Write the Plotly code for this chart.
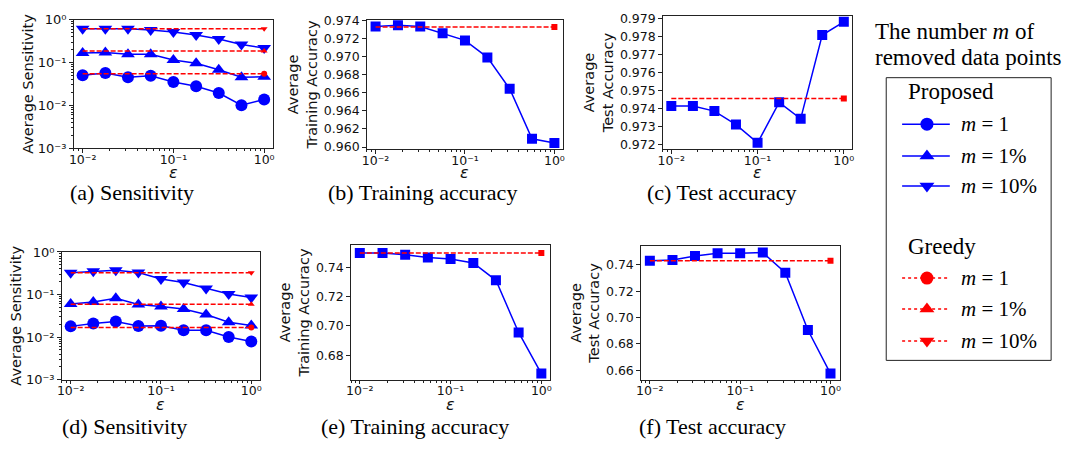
import plotly.graph_objects as go

W, H = 1074, 471

eps = [0.01, 0.0178, 0.0316, 0.0562, 0.1, 0.178, 0.316, 0.562, 1.0]
x_tickvals = [0.01, 0.1, 1]
x_ticktext = ["10⁻²", "10⁻¹", "10⁰"]
sens_tickvals = [0.001, 0.01, 0.1, 1]
sens_ticktext = ["10⁻³", "10⁻²", "10⁻¹", "10⁰"]

# (a) sensitivity, dataset 1
sens_a_m1 = [0.0506, 0.0571, 0.0456, 0.0489, 0.0351, 0.0280, 0.0195, 0.0101, 0.0138]
sens_a_m1p = [0.1675, 0.170, 0.156, 0.156, 0.114, 0.096, 0.068, 0.0456, 0.0464]
sens_a_m10p = [0.615, 0.615, 0.615, 0.574, 0.517, 0.435, 0.353, 0.263, 0.217]
greedy_a = [0.055, 0.186, 0.615]
# (b) training accuracy, dataset 1
train_b = [0.97333, 0.97347, 0.97333, 0.97258, 0.97180, 0.96992, 0.96645, 0.96091, 0.96045]
greedy_b = 0.97329
# (c) test accuracy, dataset 1
test_c = [0.97414, 0.97414, 0.97386, 0.97311, 0.97209, 0.97435, 0.97343, 0.97810, 0.97884]
greedy_c = 0.97457
# (d) sensitivity, dataset 2
sens_d_m1 = [0.0179, 0.0209, 0.0232, 0.0182, 0.0185, 0.0145, 0.0145, 0.0101, 0.0079]
sens_d_m1p = [0.0601, 0.0667, 0.0822, 0.0581, 0.0524, 0.0456, 0.0340, 0.0224, 0.0188]
sens_d_m10p = [0.324, 0.353, 0.372, 0.330, 0.233, 0.192, 0.138, 0.103, 0.0851]
greedy_d = [0.0169, 0.059, 0.324]
# (e) training accuracy, dataset 2
train_e = [0.7499, 0.7499, 0.7486, 0.7468, 0.7457, 0.7431, 0.7312, 0.6956, 0.6675]
greedy_e = 0.7499
# (f) test accuracy, dataset 2
test_f = [0.7432, 0.7437, 0.7468, 0.7488, 0.7488, 0.7493, 0.7341, 0.6906, 0.6576]
greedy_f = 0.7432

captions = ["(a) Sensitivity", "(b) Training accuracy", "(c) Test accuracy",
            "(d) Sensitivity", "(e) Training accuracy", "(f) Test accuracy"]
legend_labels = ["<i>m</i> = 1", "<i>m</i> = 1%", "<i>m</i> = 10%"]
symbols = ["circle", "triangle-up", "triangle-down"]

BLUE = "#0000ff"
RED = "#ff0000"
AX = "#222222"
SANS = "DejaVu Sans"
SERIF = "Liberation Serif"

# panel boxes in pixels: (left, right, top, bottom)
boxes = [(69, 270, 13, 146), (364, 562, 13, 147), (662, 853, 9, 147),
         (57, 257, 253, 385), (348, 549, 246, 385), (640, 840, 247, 385)]

fig = go.Figure()

def dom(b):
    l, r, t, btm = b
    return [l / W, r / W], [1 - btm / H, 1 - t / H]

TITLE_FONT = dict(family=SANS, size=14.5, color="#111")
layout = {}
for i, b in enumerate(boxes):
    n = i + 1
    xd, yd = dom(b)
    xk = "xaxis" if n == 1 else f"xaxis{n}"
    yk = "yaxis" if n == 1 else f"yaxis{n}"
    layout[xk] = dict(
        domain=xd, anchor="y" if n == 1 else f"y{n}", type="log", range=[-2.1, 0.1],
        tickvals=x_tickvals, ticktext=x_ticktext,
        ticks="outside", ticklen=3.5, tickcolor=AX, showline=True, linecolor=AX, linewidth=1,
        mirror=True, showgrid=False, zeroline=False, ticklabelstandoff=-4,
        tickfont=dict(family=SANS, size=12.5, color="#111"),
        minor=dict(ticks="outside", ticklen=2, tickcolor=AX, dtick="D1", showgrid=False),
    )
    ycommon = dict(
        domain=yd, anchor="x" if n == 1 else f"x{n}",
        ticks="outside", ticklen=3.5, tickcolor=AX, showline=True, linecolor=AX, linewidth=1,
        mirror=True, showgrid=False, zeroline=False,
        tickfont=dict(family=SANS, size=12.5, color="#111"),
    )
    if n in (1, 4):
        ycommon.update(type="log", range=[-3, 0], tickvals=sens_tickvals, ticktext=sens_ticktext,
                       tickfont=dict(family=SANS, size=13, color="#111"),
                       minor=dict(ticks="outside", ticklen=2, tickcolor=AX, dtick="D1", showgrid=False),
                       title=dict(text="Average Sensitivity", font=TITLE_FONT, standoff=0))
    elif n == 2:
        ycommon.update(range=[0.95975, 0.9741], dtick=0.002, tickformat=".3f",
                       title=dict(text="Average<br>Training Accuracy", font=TITLE_FONT, standoff=2))
    elif n == 3:
        ycommon.update(range=[0.97173, 0.97918], dtick=0.001, tickformat=".3f",
                       title=dict(text="Average<br>Test Accuracy", font=TITLE_FONT, standoff=2))
    elif n == 5:
        ycommon.update(range=[0.6633, 0.7552], dtick=0.02, tickformat=".2f",
                       title=dict(text="Average<br>Training Accuracy", font=TITLE_FONT, standoff=2))
    elif n == 6:
        ycommon.update(range=[0.6529, 0.7542], dtick=0.02, tickformat=".2f",
                       title=dict(text="Average<br>Test Accuracy", font=TITLE_FONT, standoff=2))
    layout[yk] = ycommon

def axes(n):
    return ("x" if n == 1 else f"x{n}", "y" if n == 1 else f"y{n}")

def add_sens(n, series, greedy):
    xa, ya = axes(n)
    for s, sym in zip(series, symbols):
        fig.add_trace(go.Scatter(x=eps, y=s, mode="lines+markers", xaxis=xa, yaxis=ya,
                                 line=dict(color=BLUE, width=1.5),
                                 marker=dict(symbol=sym, size=12, color=BLUE), showlegend=False))
    for g, sym in zip(greedy, symbols):
        fig.add_trace(go.Scatter(x=eps, y=[g] * len(eps), mode="lines", xaxis=xa, yaxis=ya,
                                 line=dict(color=RED, width=1.5, dash="5px,2px"), showlegend=False))
        fig.add_trace(go.Scatter(x=eps[-1:], y=[g], mode="markers", xaxis=xa, yaxis=ya,
                                 marker=dict(symbol=sym, size=6, color=RED), showlegend=False))

def add_acc(n, vals, greedy):
    xa, ya = axes(n)
    fig.add_trace(go.Scatter(x=eps, y=vals, mode="lines+markers", xaxis=xa, yaxis=ya,
                             line=dict(color=BLUE, width=1.5),
                             marker=dict(symbol="square", size=10, color=BLUE), showlegend=False))
    fig.add_trace(go.Scatter(x=eps, y=[greedy] * len(eps), mode="lines", xaxis=xa, yaxis=ya,
                             line=dict(color=RED, width=1.5, dash="5px,2px"), showlegend=False))
    fig.add_trace(go.Scatter(x=eps[-1:], y=[greedy], mode="markers", xaxis=xa, yaxis=ya,
                             marker=dict(symbol="square", size=6, color=RED), showlegend=False))

add_sens(1, [sens_a_m1, sens_a_m1p, sens_a_m10p], greedy_a)
add_acc(2, train_b, greedy_b)
add_acc(3, test_c, greedy_c)
add_sens(4, [sens_d_m1, sens_d_m1p, sens_d_m10p], greedy_d)
add_acc(5, train_e, greedy_e)
add_acc(6, test_f, greedy_f)

annotations = []
# x-axis labels (epsilon) placed below each panel
eps_y = [171, 171, 171, 411, 411, 411]
for b, ey in zip(boxes, eps_y):
    annotations.append(dict(x=(b[0] + b[1]) / 2 / W, y=1 - ey / H, xref="paper", yref="paper",
                            text="<i>ε</i>", showarrow=False, xanchor="center", yanchor="middle",
                            font=dict(family=SANS, size=16, color="#111")))

# ---- manual legend on an auxiliary axis (pixel units inside the box) ----
LL, LR, LT, LB = 887, 1053, 73, 365
layout["xaxis7"] = dict(domain=[LL / W, LR / W], range=[0, LR - LL], visible=False, anchor="y7", fixedrange=True)
layout["yaxis7"] = dict(domain=[1 - LB / H, 1 - LT / H], range=[LB - LT, 0], visible=False, anchor="x7", fixedrange=True)
prop_rows = [48, 81, 112]
greedy_rows = [207, 239, 272]
for rows, col, dash in ((prop_rows, BLUE, "solid"), (greedy_rows, RED, "dot")):
    for r, sym, lab in zip(rows, symbols, legend_labels):
        fig.add_trace(go.Scatter(x=[16, 64], y=[r, r], mode="lines", xaxis="x7", yaxis="y7",
                                 line=dict(color=col, width=1.5, dash=dash), showlegend=False, hoverinfo="skip"))
        fig.add_trace(go.Scatter(x=[41], y=[r], mode="markers", xaxis="x7", yaxis="y7",
                                 marker=dict(symbol=sym, size=13, color=col), showlegend=False, hoverinfo="skip"))
        annotations.append(dict(x=73, y=r, xref="x7", yref="y7", text=lab, showarrow=False,
                                xanchor="left", yanchor="middle",
                                font=dict(family=SERIF, size=21, color="black")))
for txt, r in (("Proposed", 14), ("Greedy", 174)):
    annotations.append(dict(x=20, y=r, xref="x7", yref="y7", text=txt, showarrow=False,
                            xanchor="left", yanchor="middle",
                            font=dict(family=SERIF, size=23, color="black")))

annotations.append(dict(x=874 / W, y=1 - 25 / H, xref="paper", yref="paper",
                        text="The number <i>m</i> of", showarrow=False, xanchor="left", yanchor="middle",
                        font=dict(family=SERIF, size=23, color="black")))
annotations.append(dict(x=874 / W, y=1 - 52 / H, xref="paper", yref="paper",
                        text="removed data points", showarrow=False, xanchor="left", yanchor="middle",
                        font=dict(family=SERIF, size=23, color="black")))

cap_pos = [(128, 192), (420, 192), (722, 192), (120, 433), (413, 433), (712, 433)]
for txt, (cx, cy) in zip(captions, cap_pos):
    annotations.append(dict(x=cx / W, y=1 - cy / H, xref="paper", yref="paper", text=txt,
                            showarrow=False, xanchor="center", yanchor="middle",
                            font=dict(family=SERIF, size=22, color="black")))

shapes = [dict(type="rect", xref="paper", yref="paper", x0=LL / W, x1=LR / W,
               y0=1 - LB / H, y1=1 - LT / H, line=dict(color="#222", width=1))]

fig.update_layout(width=W, height=H, margin=dict(l=0, r=0, t=0, b=0),
                  paper_bgcolor="white", plot_bgcolor="white",
                  annotations=annotations, shapes=shapes, showlegend=False, **layout)

fig.write_html("out.html", config={"displayModeBar": False},
               post_script="document.body.style.margin='0';document.body.style.overflow='hidden';")
